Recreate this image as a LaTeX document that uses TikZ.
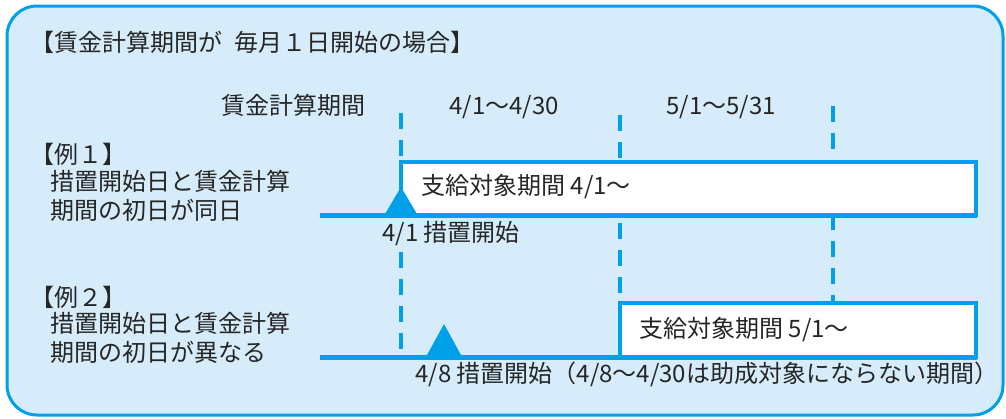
\documentclass[tikz,border=0pt]{standalone}
\usepackage{fontspec}
\setmainfont{Noto Sans CJK JP}
\definecolor{frameblue}{RGB}{0,160,233}
\definecolor{paleblue}{RGB}{214,236,250}

\begin{document}
\begin{tikzpicture}[x=0.5pt, y=-0.5pt,
    lbl/.style={anchor=west, inner sep=0pt, font=\fontsize{12pt}{14pt}\selectfont, text=black!85},
    tick/.style={frameblue, line width=2pt, dash pattern=on 8pt off 5.5pt},
    bar/.style={frameblue, line width=2.5pt},
    paybox/.style={draw=frameblue, line width=2pt, fill=white},
    marker/.style={fill=frameblue}]
    \useasboundingbox (0,0) rectangle (1006,418);
    \draw[frameblue, line width=1.5pt, fill=paleblue, rounded corners=15pt] (7,6) rectangle (1003,415);

    % period borders
    \coordinate (d1a) at (401,113);
    \coordinate (d1b) at (401,162);
    \coordinate (d1c) at (401,252);
    \coordinate (d1d) at (401,352);
    \coordinate (d2a) at (620,115);
    \coordinate (d2b) at (620,303);
    \coordinate (d3a) at (833,106);
    \coordinate (d3b) at (833,303);
    \draw[tick] (d1a) -- (d1b);
    \draw[tick] (d1c) -- (d1d);
    \draw[tick] (d2a) -- (d2b);
    \draw[tick] (d3a) -- (d3b);

    % example 1
    \draw[paybox] (401,162) rectangle (976,215);
    \coordinate (bar1a) at (320,215);
    \coordinate (bar1b) at (977,215);
    \draw[bar] (bar1a) -- (bar1b);
    \coordinate (start1) at (401,187);
    \fill[marker] (start1) -- ++(-16,27) -- ++(32,0) -- cycle;

    % example 2
    \draw[paybox] (620,303) rectangle (976,357);
    \coordinate (bar2a) at (320,357);
    \coordinate (bar2b) at (977,357);
    \draw[bar] (bar2a) -- (bar2b);
    \coordinate (start2) at (444,324);
    \fill[marker] (start2) -- ++(-17,31) -- ++(34,0) -- cycle;

    % texts
    \node[lbl] (title) at (30,42) {【賃金計算期間が\hspace{6pt}毎月１日開始の場合】};
    \node[lbl, anchor=east] (period) at (366,105) {賃金計算期間};
    \node[lbl, anchor=center] (april) at (504,107) {4/1～4/30};
    \node[lbl, anchor=center] (may) at (721,107) {5/1～5/31};
    \node[lbl] (ex1) at (30,154) {【例１】};
    \node[lbl] (ex1a) at (50,181) {措置開始日と賃金計算};
    \node[lbl] (ex1b) at (50,210) {期間の初日が同日};
    \node[lbl] (pay1) at (421,187) {支給対象期間 4/1～};
    \node[lbl] (begin1) at (382,234) {4/1 措置開始};
    \node[lbl] (ex2) at (30,297) {【例２】};
    \node[lbl] (ex2a) at (50,323) {措置開始日と賃金計算};
    \node[lbl] (ex2b) at (50,352) {期間の初日が異なる};
    \node[lbl] (pay2) at (639,330) {支給対象期間 5/1～};
    \node[lbl] (begin2) at (415,374) {4/8 措置開始（4/8～4/30は助成対象にならない期間）};

\end{tikzpicture}
\end{document}
